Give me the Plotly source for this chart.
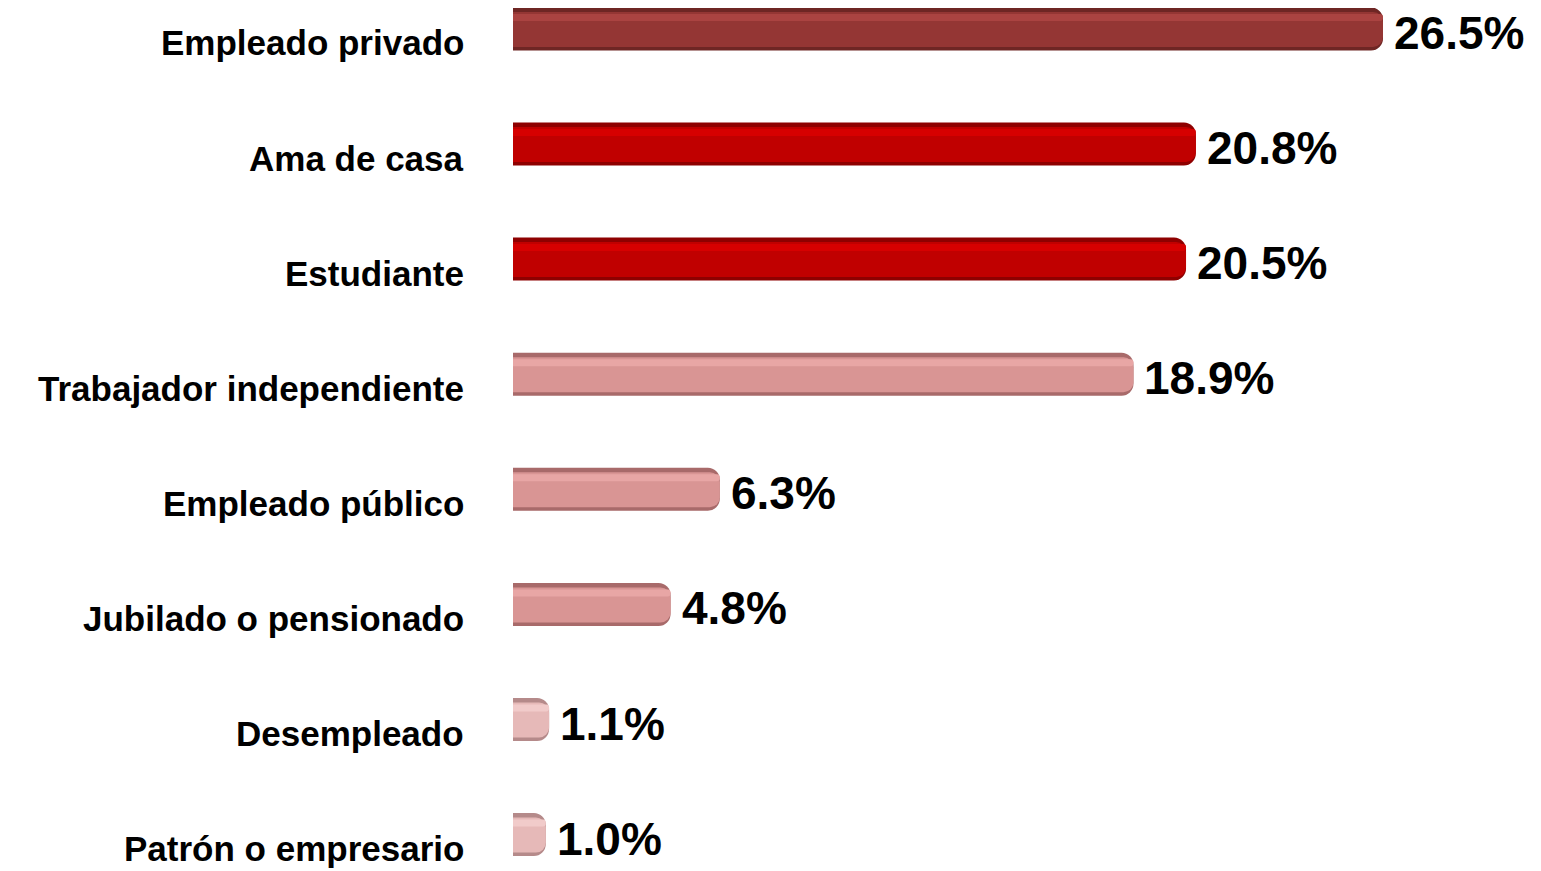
import plotly.graph_objects as go

categories = ["Empleado privado", "Ama de casa", "Estudiante", "Trabajador independiente",
              "Empleado público", "Jubilado o pensionado", "Desempleado", "Patrón o empresario"]
values = [26.5, 20.8, 20.5, 18.9, 6.3, 4.8, 1.1, 1.0]
value_labels = [f"{v:.1f}%" for v in values]

# styles (one per bar)
edge_colors = ["#6E2624", "#8E0000", "#8E0000", "#A86A6A", "#A86A6A", "#A86A6A", "#B58A8A", "#B58A8A"]
main_colors = ["#943634", "#C00000", "#C00000", "#D99594", "#D99594", "#D99594", "#E6B9B8", "#E6B9B8"]
hi_colors = ["#AA4341", "#D60000", "#D60000", "#E8A6A5", "#E8A6A5", "#E8A6A5", "#F1CBCA", "#F1CBCA"]

PX = 115.1   # pixels per category step
bar_h = 43
PAGE = 8     # browser body margin

fig = go.Figure()
fig.add_trace(go.Bar(y=categories, x=values, orientation="h",
                     marker=dict(color=edge_colors, cornerradius=12, line=dict(width=0)),
                     width=bar_h / PX, offset=-bar_h / 2 / PX, hoverinfo="skip"))
fig.add_trace(go.Bar(y=categories, x=values, orientation="h",
                     marker=dict(color=main_colors, cornerradius=10, line=dict(width=0)),
                     width=(bar_h - 8) / PX, offset=(-bar_h / 2 + 4.5) / PX, hoverinfo="skip"))
fig.add_trace(go.Bar(y=categories, x=values, orientation="h",
                     marker=dict(color=hi_colors, cornerradius=3, line=dict(width=0)),
                     width=7 / PX, offset=(-bar_h / 2 + 6.5) / PX, hoverinfo="skip"))

annotations = []
for c, v, lab in zip(categories, values, value_labels):
    annotations.append(dict(x=v, y=c, xref="x", yref="y", text=lab, showarrow=False,
                            xanchor="left", yanchor="middle", xshift=9, yshift=-4,
                            font=dict(family="Liberation Sans, Arial", size=46, color="black", weight="bold")))
    annotations.append(dict(x=0, y=c, xref="paper", yref="y", text=c, showarrow=False,
                            xanchor="right", yanchor="middle", xshift=-47, yshift=-14,
                            font=dict(family="Liberation Sans, Arial", size=35, color="black", weight="bold")))

W, H = 1541 - PAGE, 871 - PAGE
left = 513 - PAGE
fig.update_layout(
    width=W, height=H,
    margin=dict(l=left, r=0, t=0, b=0),
    paper_bgcolor="white", plot_bgcolor="white",
    barmode="overlay", showlegend=False,
    annotations=annotations,
    xaxis=dict(range=[0, (W - left) / 32.83], visible=False, fixedrange=True),
    yaxis=dict(type="category", categoryorder="array", categoryarray=categories,
               range=[7 + (H - (834.6 - PAGE)) / PX, -(28.9 - PAGE) / PX], showticklabels=False,
               showgrid=False, zeroline=False, showline=False, ticks="", fixedrange=True),
)
fig.write_html("out.html", config={"displayModeBar": False})
